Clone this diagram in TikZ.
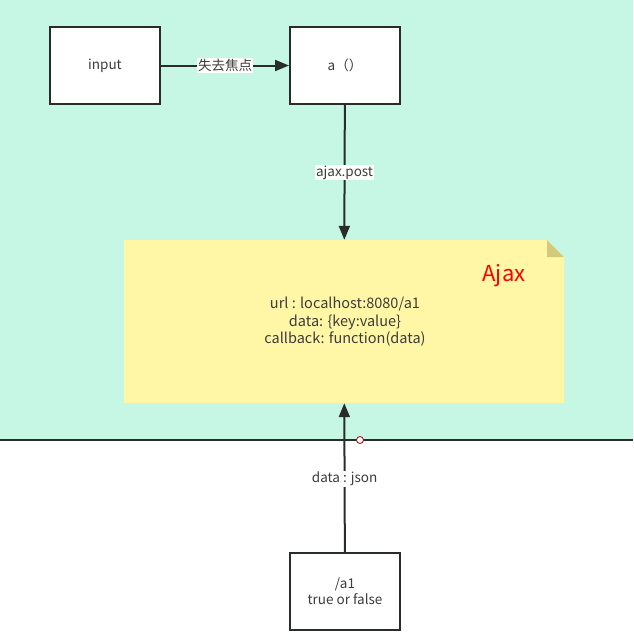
\documentclass[tikz,border=0pt]{standalone}
\usepackage{fontspec}
\setmainfont{Noto Sans CJK SC}
\usetikzlibrary{arrows.meta}
\definecolor{mint}{RGB}{198,246,228}
\definecolor{notey}{RGB}{255,247,166}
\definecolor{foldc}{RGB}{212,200,122}
\definecolor{linec}{RGB}{40,44,42}
\definecolor{txt}{RGB}{60,60,60}
\begin{document}
\begin{tikzpicture}[x=1pt,y=-1pt,
  box/.style={draw=linec,line width=2pt,fill=white,minimum width=110pt,minimum height=77pt,font=\fontsize{13.5}{16}\selectfont,text=txt,align=center},
  conn/.style={draw=linec,line width=2pt,-{Triangle[length=14pt,width=11pt]}},
  lbl/.style={fill=white,inner sep=1pt,font=\fontsize{13.5}{15}\selectfont,text=txt}]
\useasboundingbox (0,0) rectangle (633,641);
\fill[mint] (0,0) rectangle (633,440);
\draw[linec,line width=1.5pt] (0,440) -- (633,440);
% note
\fill[notey] (124,240) -- (547,240) -- (564,257) -- (564,403) -- (124,403) -- cycle;
\fill[foldc] (547,240) -- (564,257) -- (547,257) -- cycle;
\node[inner sep=0pt,minimum width=440pt,minimum height=163pt] (note) at (344,321.5) {};
\node[text=red,font=\fontsize{22}{26}\selectfont] (ajax) at (504,276) {Ajax};
\node[align=center,text=txt,font=\fontsize{14.5}{17.5}\selectfont] (notetext) at (345,322) {url : localhost:8080/a1\\data: \{key:value\}\\callback: function(data)};
% boxes
\node[box] (input) at (105,65.5) {input};
\node[box] (a) at (345,65.5) {a（）};
\node[box] (srv) at (345,591.5) {/a1\\true or false};
% connectors
\draw[conn] (input) -- node[lbl] {失去焦点} (a);
\draw[conn] (a) -- node[lbl,pos=0.5] {ajax.post} (note);
\draw[conn] (srv) -- node[lbl,pos=0.49] {data : json} (note);
\node[circle,draw=red!70!black,fill=white,line width=0.8pt,inner sep=0pt,minimum size=7pt] (dot) at (360,440) {};
\end{tikzpicture}
\end{document}
